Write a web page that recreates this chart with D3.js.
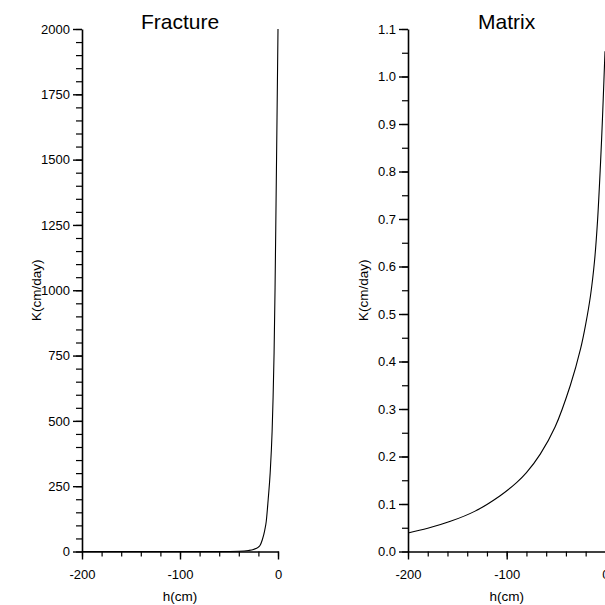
<!DOCTYPE html>
<html>
<head>
<meta charset="utf-8">
<script src="https://cdn.jsdelivr.net/npm/d3@7"></script>
<style>
  body { margin: 0; background: #fff; }
  svg { display: block; font-family: "Liberation Sans", Arial, Helvetica, sans-serif; }
  .axis path, .axis line { stroke: #000; }
  .axis text { fill: #000; font-size: 13px; }
</style>
</head>
<body>
<svg id="chart" width="605" height="605"></svg>
<script>
// Hydraulic conductivity K(h)
const fractureH = [-200, -100, -60, -40, -30, -25, -20, -18.4, -16, -13.6, -12, -10, -8, -6, -5, -4, -3, -2, -1, 0];
const fractureK = [0, 0, 0.2, 1, 4, 8, 17, 23, 45, 80, 115, 200, 300, 460, 590, 760, 1010, 1330, 1660, 2000];

const matrixH = [-200, -180, -157, -132, -107, -90, -80, -66, -51, -35.5, -25, -20, -15, -11, -8, -5, -3, -1, -0.4];
const matrixK = [0.039, 0.049, 0.0635, 0.085, 0.117, 0.145, 0.166, 0.205, 0.262, 0.350, 0.428, 0.478, 0.54, 0.612, 0.695, 0.815, 0.91, 1.02, 1.053];

const hMajor = [-200, -100, 0];
const hMinor = d3.range(-200, 1, 20);
const fracMajor = d3.range(0, 2001, 250);
const fracMinor = d3.range(0, 2001, 50);
const matMajor = d3.range(0, 11.5, 1).map(d => d / 10);
const matMinor = d3.range(0, 22.5, 1).map(d => d / 20);

const svg = d3.select("#chart");

const panels = [
  { title: "Fracture", h: fractureH, k: fractureK, left: 82, right: 278, yMax: 2000,
    yMajor: fracMajor, yMinor: fracMinor, fmt: d => String(d), labelX: 36,
    curve: d3.curveMonotoneX },
  { title: "Matrix", h: matrixH, k: matrixK, left: 408, right: 605.4, yMax: 1.1,
    yMajor: matMajor, yMinor: matMinor, fmt: d3.format(".1f"), labelX: 363,
    curve: d3.curveCatmullRom.alpha(0.5) },
];

const plotTop = 29, plotBottom = 551.5;

panels.forEach(p => {
  const x = d3.scaleLinear().domain([-200, 0]).range([p.left, p.right]);
  const y = d3.scaleLinear().domain([0, p.yMax]).range([plotBottom, plotTop]);
  const g = svg.append("g");

  // minor ticks
  g.append("g").attr("class", "axis").attr("transform", `translate(0,${plotBottom})`)
    .call(d3.axisBottom(x).tickValues(hMinor).tickSize(5).tickFormat("").tickSizeOuter(0))
    .call(s => s.select(".domain").remove())
    .selectAll("line").attr("stroke-width", 1.2);
  g.append("g").attr("class", "axis").attr("transform", `translate(${p.left},0)`)
    .call(d3.axisLeft(y).tickValues(p.yMinor).tickSize(6).tickFormat("").tickSizeOuter(0))
    .call(s => s.select(".domain").remove())
    .selectAll("line").attr("stroke-width", 1.2);

  // major ticks + labels
  const xa = g.append("g").attr("class", "axis").attr("transform", `translate(0,${plotBottom})`)
    .call(d3.axisBottom(x).tickValues(hMajor).tickSize(8).tickPadding(10).tickSizeOuter(0).tickFormat(d => String(d)));
  xa.select(".domain").attr("stroke-width", 1.6);
  xa.selectAll("line").attr("stroke-width", 1.4);

  const ya = g.append("g").attr("class", "axis").attr("transform", `translate(${p.left},0)`)
    .call(d3.axisLeft(y).tickValues(p.yMajor).tickSize(9).tickPadding(3).tickSizeOuter(0).tickFormat(p.fmt));
  ya.select(".domain").attr("stroke-width", 1.6);
  ya.selectAll("line").attr("stroke-width", 1.4);

  // curve
  const line = d3.line().x((d, i) => x(p.h[i])).y(d => y(d)).curve(p.curve);
  g.append("path").datum(p.k).attr("d", line)
    .attr("fill", "none").attr("stroke", "#000").attr("stroke-width", 1.1);

  // titles
  g.append("text").attr("x", (p.left + p.right) / 2).attr("y", 29)
    .attr("text-anchor", "middle").attr("font-size", 21).text(p.title);
  g.append("text").attr("x", (p.left + p.right) / 2).attr("y", 601)
    .attr("text-anchor", "middle").attr("font-size", 13.5).text("h(cm)");
  g.append("text").attr("transform", `translate(${p.labelX + 5},${(plotTop + plotBottom) / 2}) rotate(-90)`)
    .attr("text-anchor", "middle").attr("font-size", 13.5).text("K(cm/day)");
});
</script>
</body>
</html>
